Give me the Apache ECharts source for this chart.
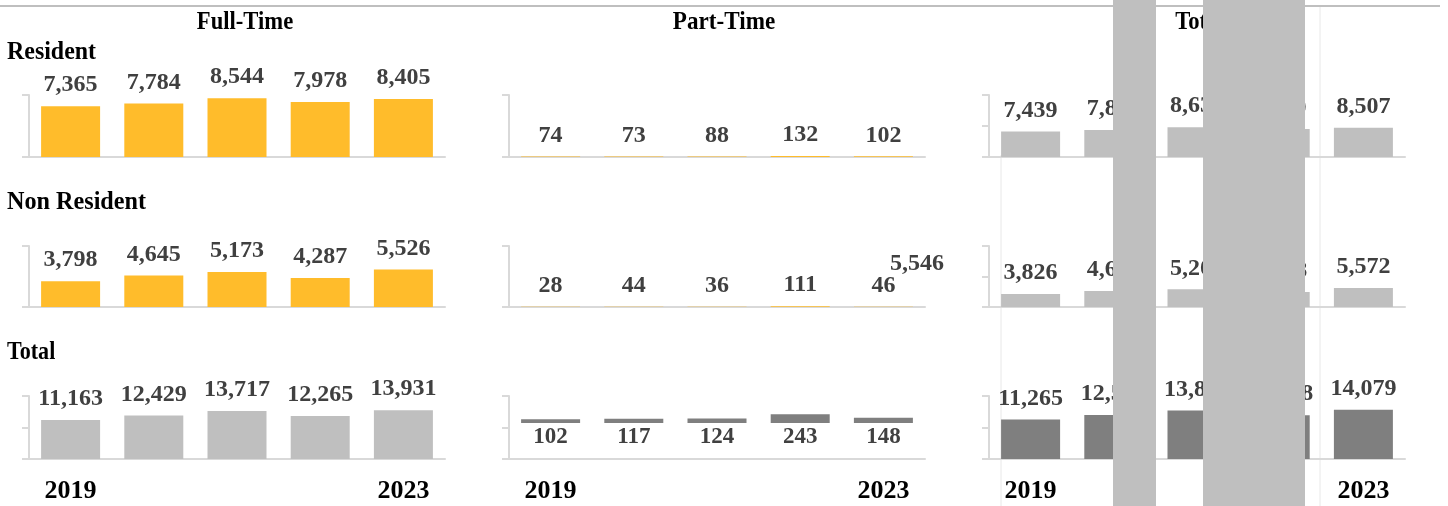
<!DOCTYPE html>
<html>
<head>
<meta charset="utf-8">
<script src="https://cdn.jsdelivr.net/npm/echarts@6.0.0/dist/echarts.min.js"></script>
<style>
  html, body { margin: 0; padding: 0; background: #fff; }
  #chart { width: 1448px; height: 506px; }
</style>
</head>
<body>
<div id="chart"></div>
<script>
const years = ['2019', '2020', '2021', '2022', '2023']

// Full-Time
const ftResident = [7365, 7784, 8544, 7978, 8405]
const ftNonResident = [3798, 4645, 5173, 4287, 5526]
const ftTotal = [11163, 12429, 13717, 12265, 13931]

// Part-Time
const ptResident = [74, 73, 88, 132, 102]
const ptNonResident = [28, 44, 36, 111, 46]
const ptTotal = [102, 117, 124, 243, 148]

// Total
const totResident = [7439, 7857, 8632, 8110, 8507]
const totNonResident = [3826, 4689, 5209, 4398, 5572]
const totTotal = [11265, 12546, 13841, 12508, 14079]

const colHeaders = ['Full-Time', 'Part-Time', 'Total']
const rowHeaders = ['Resident', 'Non Resident', 'Total']

const YELLOW = '#FFBC2B'
const LIGHT = '#BFBFBF'
const DARK = '#7F7F7F'
const AXIS = '#D9D9D9'
const FONT = '"Liberation Serif", "DejaVu Serif", serif'

const colLeft = [29, 509, 989]
const rowTop = [95, 246, 396]
const rowHeight = [62, 61, 63]

// panels: [row][col]
const panels = [
  [
    { data: ftResident, color: YELLOW, min: 0, max: 9000, interval: 9000 },
    { data: ptResident, color: YELLOW, min: 0, max: 9000, interval: 9000 },
    { data: totResident, color: LIGHT, min: 0, max: 18000, interval: 9000 }
  ],
  [
    { data: ftNonResident, color: YELLOW, min: 0, max: 9000, interval: 9000 },
    { data: ptNonResident, color: YELLOW, min: 0, max: 9000, interval: 9000 },
    { data: totNonResident, color: LIGHT, min: 0, max: 18000, interval: 9000 }
  ],
  [
    { data: ftTotal, color: LIGHT, min: 0, max: 18000, interval: 9000 },
    { data: ptTotal, color: DARK, min: -1000, max: 750, interval: 875, below: true },
    { data: totTotal, color: DARK, min: 0, max: 18000, interval: 9000 }
  ]
]

const grid = []
const xAxis = []
const yAxis = []
const series = []

panels.forEach((row, r) => {
  row.forEach((p, c) => {
    const idx = grid.length
    grid.push({ left: colLeft[c], top: rowTop[r], width: 416, height: rowHeight[r] })
    xAxis.push({
      type: 'category',
      gridIndex: idx,
      data: years,
      axisLine: { onZero: false, lineStyle: { color: AXIS, width: 2 } },
      axisTick: { show: false },
      axisLabel: {
        show: r === 2,
        interval: 0,
        margin: 19,
        color: '#000',
        fontFamily: FONT,
        fontWeight: 'bold',
        fontSize: 26,
        formatter: (v, i) => (i === 0 || i === years.length - 1) ? v : ''
      }
    })
    yAxis.push({
      type: 'value',
      gridIndex: idx,
      min: p.min,
      max: p.max,
      interval: p.interval,
      axisLine: { show: true, lineStyle: { color: AXIS, width: 2 } },
      axisTick: { show: true, length: 7, lineStyle: { color: AXIS, width: 2 } },
      axisLabel: { show: false },
      splitLine: { show: false }
    })
    series.push({
      type: 'bar',
      xAxisIndex: idx,
      yAxisIndex: idx,
      data: p.data,
      barWidth: 59,
      itemStyle: { color: p.color },
      label: {
        show: true,
        position: p.below ? 'bottom' : 'top',
        distance: p.below ? 3 : 9,
        color: '#404040',
        fontFamily: FONT,
        fontWeight: 'bold',
        fontSize: p.below ? 23 : 24,
        formatter: d => d.value.toLocaleString('en-US')
      }
    })
  })
})

const headerX = [245, 724, 1200]
const headerScale = [0.87, 0.89, 0.87]
const rowLabelY = [52, 202, 352]
const rowLabelScale = [0.92, 0.93, 0.85]

const graphic = [
  { type: 'line', shape: { x1: 0, y1: 6, x2: 1440, y2: 6 }, style: { stroke: LIGHT, lineWidth: 2 } },
  { type: 'line', shape: { x1: 1001, y1: 155, x2: 1001, y2: 506 }, style: { stroke: '#E8E8E8', lineWidth: 1 } },
  { type: 'line', shape: { x1: 1320, y1: 7, x2: 1320, y2: 506 }, style: { stroke: '#E8E8E8', lineWidth: 1 } }
]
colHeaders.forEach((t, i) => {
  graphic.push({
    type: 'text', x: headerX[i], y: 22, scaleX: headerScale[i],
    style: { text: t, font: 'bold 26px ' + FONT, fill: '#000', textAlign: 'center', textVerticalAlign: 'middle' }
  })
})
rowHeaders.forEach((t, i) => {
  graphic.push({
    type: 'text', x: 7, y: rowLabelY[i], scaleX: rowLabelScale[i],
    style: { text: t, font: 'bold 26px ' + FONT, fill: '#000', textAlign: 'left', textVerticalAlign: 'middle' }
  })
})
// stray label in the part-time panel
graphic.push({
  type: 'text', x: 917, y: 264,
  style: { text: '5,546', font: 'bold 24px ' + FONT, fill: '#404040', textAlign: 'center', textVerticalAlign: 'middle' }
})
// grey blocks covering the total column
graphic.push({ type: 'rect', z: 100, shape: { x: 1113, y: 0, width: 43, height: 506 }, style: { fill: LIGHT } })
graphic.push({ type: 'rect', z: 100, shape: { x: 1203, y: 0, width: 102, height: 506 }, style: { fill: LIGHT } })

const myChart = echarts.init(document.getElementById('chart'))
myChart.setOption({
  animation: false,
  grid,
  xAxis,
  yAxis,
  series,
  graphic
})
</script>
</body>
</html>
